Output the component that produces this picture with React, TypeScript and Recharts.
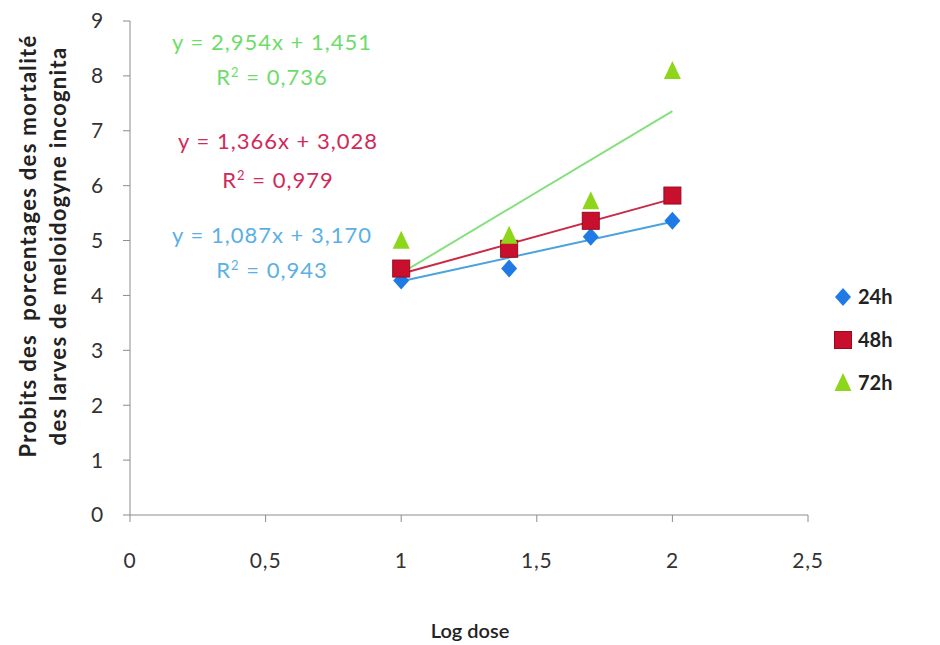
import React from 'react';
import { ScatterChart, Scatter, XAxis, YAxis, ReferenceLine } from 'recharts';

// Log10 of the tested doses
const logDose = [1, 1.398, 1.699, 2];
// Probit values of the mortality percentages per exposure time
const probit24h = [4.27, 4.49, 5.07, 5.36];
const probit48h = [4.49, 4.85, 5.36, 5.82];
const probit72h = [4.98, 5.07, 5.7, 8.07];

const seriesNames = ['24h', '48h', '72h'];
// Linear trend lines: y = slope * x + intercept
const slopes = [1.087, 1.366, 2.954];
const intercepts = [3.17, 3.028, 1.451];
const rSquared = [0.943, 0.979, 0.736];

const xTicks = [0, 0.5, 1, 1.5, 2, 2.5];
const yTicks = [0, 1, 2, 3, 4, 5, 6, 7, 8, 9];

const markerColors = ['#1f7ae6', '#c8102e', '#8ed61c'];
const lineColors = ['#4aa3dc', '#c92a48', '#86e07e'];
const textColors = ['#5ab0e4', '#cf2a5a', '#6edc6a'];

const FONT = 'Lato, "Liberation Sans", sans-serif';

const comma = (v: number, d = 3) => v.toFixed(d).replace('.', ',');
const tickFmt = (v: number) => String(v).replace('.', ',');

const toPoints = (ys: number[]) => logDose.map((x, i) => ({ x, y: ys[i] }));
const series = [probit24h, probit48h, probit72h].map(toPoints);

const Diamond = (props: any) => {
  const { cx, cy, fill } = props;
  const w = 8, h = 9;
  return <polygon points={`${cx},${cy - h} ${cx + w},${cy} ${cx},${cy + h} ${cx - w},${cy}`} fill={fill} />;
};
const Square = (props: any) => {
  const { cx, cy, fill } = props;
  const s = 8.5;
  return <rect x={cx - s} y={cy - s} width={2 * s} height={2 * s} fill={fill} stroke="#9a0a1e" strokeWidth={1} />;
};
const Triangle = (props: any) => {
  const { cx, cy, fill } = props;
  return <polygon points={`${cx},${cy - 11} ${cx + 8.5},${cy + 7} ${cx - 8.5},${cy + 7}`} fill={fill} />;
};
const shapes = [Diamond, Square, Triangle];

// Equation labels: [centerX, topY of equation line, topY of R² line]
const eqPos = [
  [272, 222, 257],
  [278, 128, 167],
  [272, 29, 64],
];

const tickStyle = { fill: '#333', fontSize: 21, fontFamily: FONT, letterSpacing: 0.8 };

export default function App() {
  return (
    <div style={{ position: 'absolute', left: 0, top: 0, width: 940, height: 645, background: '#fff', fontFamily: FONT }}>
      <ScatterChart width={940} height={645} margin={{ top: 21, right: 132, bottom: 0, left: 0 }}>
        <XAxis
          type="number"
          dataKey="x"
          domain={[0, 2.5]}
          ticks={xTicks}
          tickFormatter={tickFmt}
          height={130}
          stroke="#8c8c8c"
          tickSize={7}
          tickMargin={31}
          tick={tickStyle}
          allowDataOverflow
        />
        <YAxis
          type="number"
          dataKey="y"
          domain={[0, 9]}
          ticks={yTicks}
          width={130}
          stroke="#8c8c8c"
          tickSize={7}
          tickMargin={19}
          tick={tickStyle}
          allowDataOverflow
        />
        {slopes.map((m, i) => (
          <ReferenceLine
            key={'t' + i}
            segment={[
              { x: 1, y: m * 1 + intercepts[i] },
              { x: 2, y: m * 2 + intercepts[i] },
            ]}
            stroke={lineColors[i]}
            strokeWidth={2}
          />
        ))}
        {series.map((pts, i) => (
          <Scatter
            key={seriesNames[i]}
            name={seriesNames[i]}
            data={pts}
            fill={markerColors[i]}
            shape={shapes[i]}
            isAnimationActive={false}
          />
        ))}
      </ScatterChart>

      {/* trend line equations */}
      {slopes.map((m, i) => (
        <React.Fragment key={'eq' + i}>
          <div style={{ position: 'absolute', left: eqPos[i][0] - 150, width: 300, top: eqPos[i][1], textAlign: 'center', color: textColors[i], fontSize: 22, lineHeight: '26px', letterSpacing: 1 }}>
            {`y = ${comma(m)}x + ${comma(intercepts[i])}`}
          </div>
          <div style={{ position: 'absolute', left: eqPos[i][0] - 150, width: 300, top: eqPos[i][2], textAlign: 'center', color: textColors[i], fontSize: 22, lineHeight: '26px', letterSpacing: 1 }}>
            R<sup style={{ fontSize: 13, verticalAlign: 'top', lineHeight: '16px' }}>2</sup>{` = ${comma(rSquared[i])}`}
          </div>
        </React.Fragment>
      ))}

      {/* legend */}
      <svg style={{ position: 'absolute', left: 830, top: 280 }} width={26} height={120}>
        <Diamond cx={13} cy={17} fill={markerColors[0]} />
        <Square cx={13} cy={60} fill={markerColors[1]} />
        <Triangle cx={13} cy={104} fill={markerColors[2]} />
      </svg>
      {seriesNames.map((n, i) => (
        <div key={'lg' + i} style={{ position: 'absolute', left: 858, top: 284 + i * 43, fontSize: 20, lineHeight: '24px', color: '#222', fontWeight: 700 }}>
          {n}
        </div>
      ))}

      {/* axis titles */}
      <div style={{ position: 'absolute', left: 470 - 100, width: 200, top: 618, textAlign: 'center', fontSize: 20, color: '#222', fontWeight: 600 }}>
        Log dose
      </div>
      <div
        style={{
          position: 'absolute',
          left: 44 - 240,
          top: 246 - 31,
          width: 480,
          height: 62,
          transform: 'rotate(-90deg)',
          textAlign: 'center',
          fontSize: 22,
          lineHeight: '30px',
          letterSpacing: 1.3,
          fontWeight: 700,
          color: '#222',
        }}
      >
        <div>Probits des&nbsp;&nbsp;porcentages des mortalité</div>
        <div>des larves de meloidogyne incognita</div>
      </div>
    </div>
  );
}
